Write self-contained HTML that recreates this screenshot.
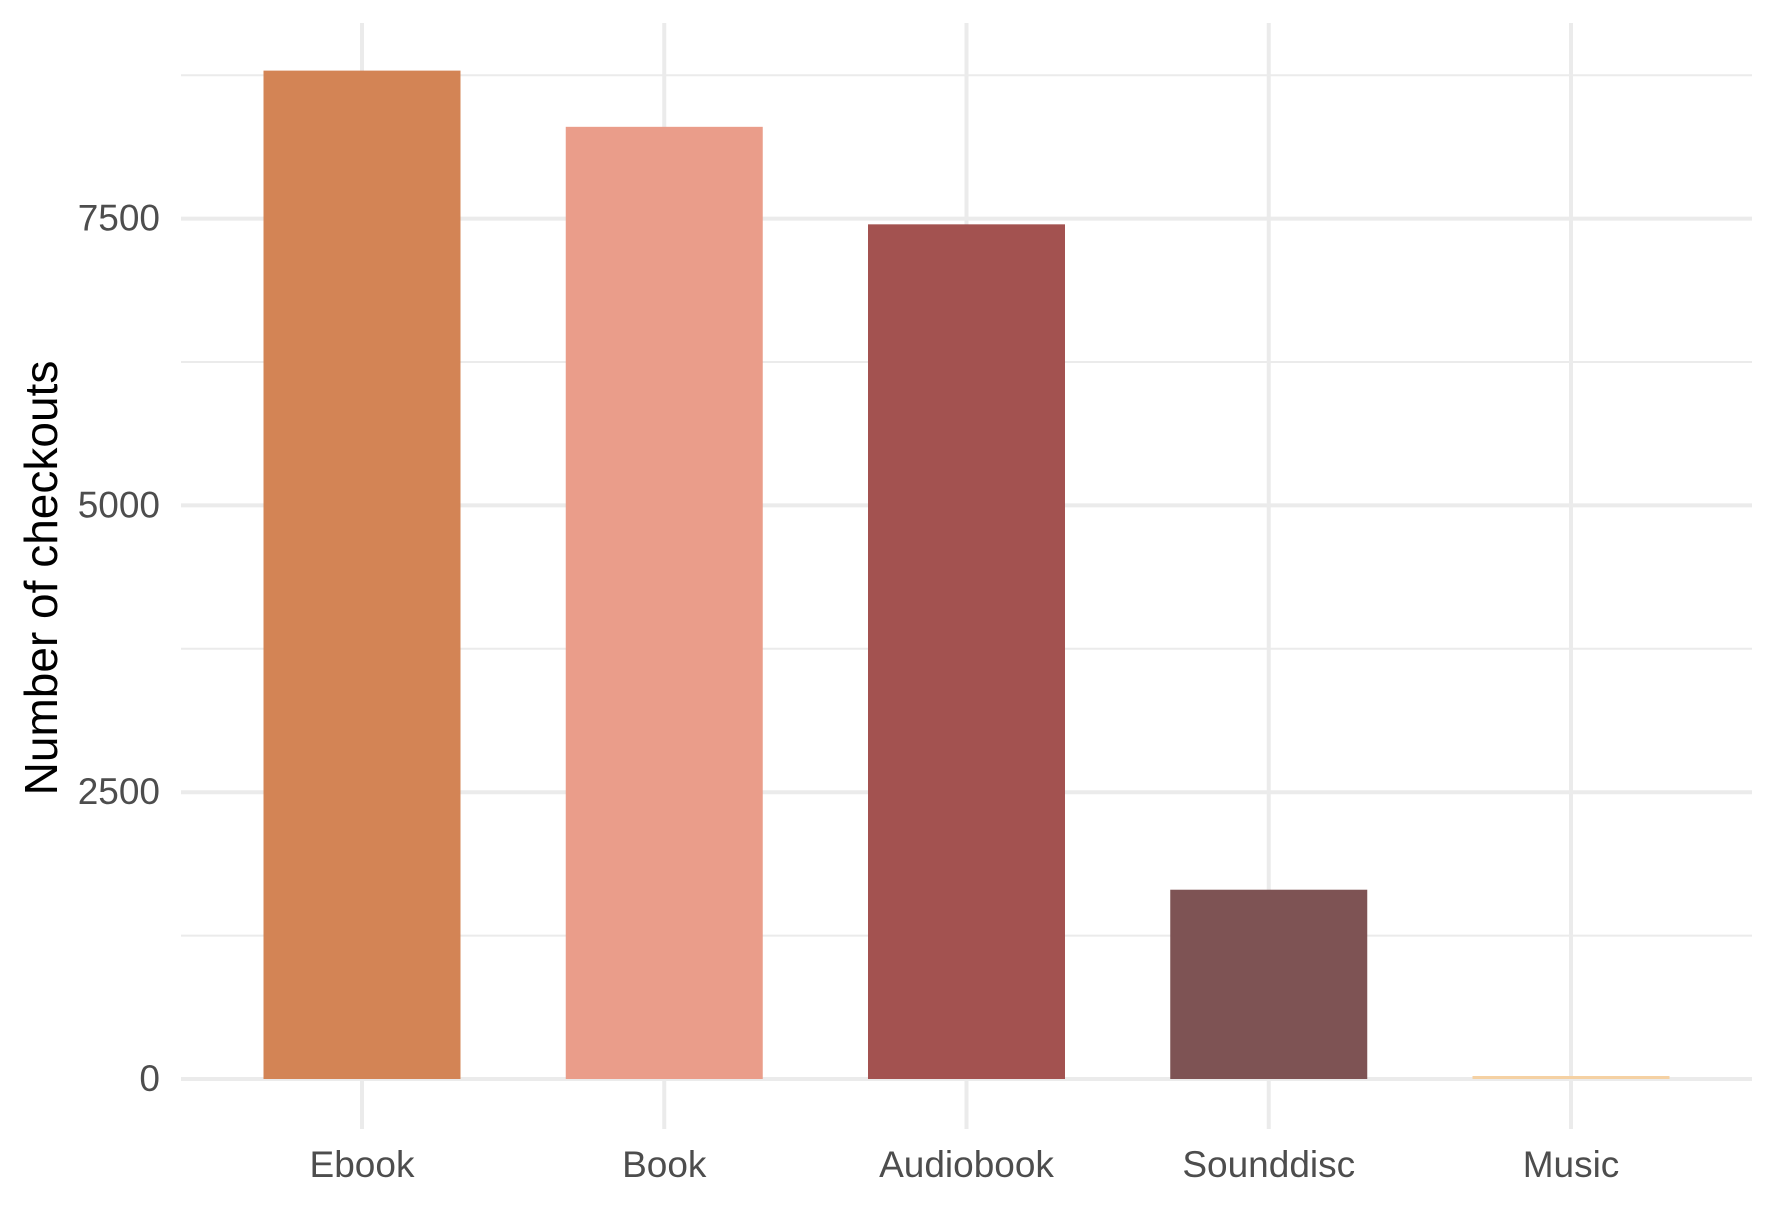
<!DOCTYPE html>
<html><head><meta charset="utf-8"><style>
body{margin:0;background:#fff}
svg{display:block}
text{font-family:"Liberation Sans",Arial,sans-serif}
</style></head><body>
<svg id="chart" width="1775" height="1206">
<g id="grid"></g>
<g id="bars"></g>
<g id="labels"></g>
<text transform="translate(57,578) rotate(-90)" text-anchor="middle" font-size="46" fill="#000">Number of checkouts</text>
</svg>
<script>
const categories=["Ebook","Book","Audiobook","Sounddisc","Music"];
const values=[8790,8300,7450,1650,15];
const colors=["#D2804F","#E99A86","#A04C4A","#7A4D4E","#F5D0A0"];
const yTicks=[0,2500,5000,7500];
const yMinor=[1250,3750,6250,8750];
const ns="http://www.w3.org/2000/svg";
const x0=181,x1=1752,yZero=1079,pxPer=286.8/2500;
const xc=i=>362+i*302.25;
const y=v=>yZero-v*pxPer;
const bw=197;
const grid=document.getElementById('grid'),bars=document.getElementById('bars'),labels=document.getElementById('labels');
function mk(tag,attrs,parent){const e=document.createElementNS(ns,tag);for(const k in attrs)e.setAttribute(k,attrs[k]);parent.appendChild(e);return e;}
yMinor.forEach(v=>{const l=mk('line',{x1:x0,x2:x1,y1:y(v),y2:y(v),stroke:'#ebebeb','stroke-width':2},grid);

});
yTicks.forEach(v=>{const l=mk('line',{x1:x0,x2:x1,y1:y(v),y2:y(v),stroke:'#ebebeb','stroke-width':4},grid);


const t=mk('text',{x:160,y:y(v)+12,'text-anchor':'end','font-size':37,fill:'#4d4d4d'},labels);t.textContent=v;

});
categories.forEach((c,i)=>{const l=mk('line',{x1:xc(i),x2:xc(i),y1:23,y2:1129,stroke:'#ebebeb','stroke-width':4},grid);


const h=Math.max(values[i]*pxPer,3);
const r=mk('rect',{x:xc(i)-bw/2,y:yZero-h,width:bw,height:h,fill:colors[i],'fill-opacity':0.97},bars);


const t=mk('text',{x:xc(i),y:1177,'text-anchor':'middle','font-size':37,fill:'#4d4d4d'},labels);t.textContent=c;

});
</script>
</body></html>
